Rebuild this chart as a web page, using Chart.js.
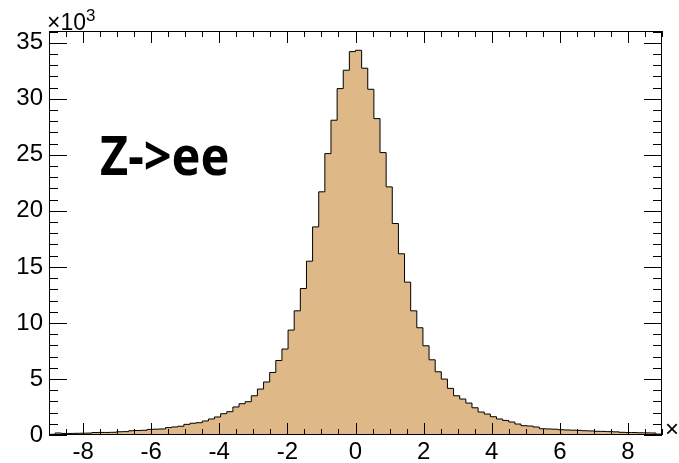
<!DOCTYPE html>
<html>
<head>
<meta charset="utf-8">
<script src="https://cdn.jsdelivr.net/npm/chart.js@4"></script>
<style>
  html, body { margin: 0; padding: 0; background: #fff; }
  #wrap { width: 679px; height: 463px; }
</style>
</head>
<body>
<div id="wrap"><canvas id="histo" width="679" height="463"></canvas></div>
<script>
// ── Histogram definition ──
const xMin = -9, xMax = 9, nBins = 100;
const yMax = 36.05;                 // in units of 10^3
const histTitle = 'Z->ee';

// bin contents (x10^3)
const counts = [
    0.06, 0.18, 0.14, 0.14, 0.15, 0.16, 0.17, 0.22, 0.23, 0.23,
    0.24, 0.29, 0.30, 0.38, 0.40, 0.42, 0.50, 0.52, 0.54, 0.66,
    0.72, 0.78, 0.95, 1.05, 1.10, 1.25, 1.43, 1.61, 1.90, 2.08,
    2.50, 2.79, 2.97, 3.50, 4.10, 4.73, 5.58, 6.65, 7.67, 9.36,
    11.08, 13.07, 15.51, 18.57, 21.70, 25.11, 28.09, 30.91, 32.55, 34.21,
    34.33, 32.73, 30.85, 28.23, 25.20, 22.14, 18.87, 16.17, 13.64, 11.08,
    9.57, 7.96, 6.71, 5.64, 4.99, 4.16, 3.50, 3.21, 2.85, 2.43,
    2.05, 1.87, 1.63, 1.43, 1.30, 1.16, 0.98, 0.83, 0.80, 0.71,
    0.56, 0.54, 0.52, 0.47, 0.45, 0.43, 0.41, 0.38, 0.36, 0.33,
    0.32, 0.30, 0.28, 0.24, 0.22, 0.22, 0.20, 0.19, 0.18, 0.08,
];

const xMajor = 2, xMinor = 0.5;
const yMajor = 5, yMinor = 1;

// step outline: start at the low edge of each bin
const binW = (xMax - xMin) / nBins;
const steps = [{ x: xMin, y: 0 }];
counts.forEach((c, i) => steps.push({ x: xMin + i * binW, y: c }));
steps.push({ x: xMax, y: counts[nBins - 1] });
steps.push({ x: xMax, y: 0 });

const labelFamily = '"Liberation Sans", Arial, sans-serif';

// ── ROOT-like frame, ticks on all four sides, labels ──
const frameTicks = {
    id: 'frameTicks',
    afterDraw(chart) {
        const { ctx, chartArea: a, scales: { x, y } } = chart;
        ctx.save();
        ctx.strokeStyle = '#000';
        ctx.lineWidth = 1;
        ctx.beginPath();
        for (let v = 0; v <= yMax + 1e-9; v += yMinor) {
            const py = Math.round(y.getPixelForValue(v)) + 0.5;
            const len = (Math.round(v) % yMajor === 0) ? 18 : 9;
            ctx.moveTo(a.left, py);  ctx.lineTo(a.left + len, py);
            ctx.moveTo(a.right, py); ctx.lineTo(a.right - len, py);
        }
        for (let v = xMin; v <= xMax + 1e-9; v += xMinor) {
            const px = Math.round(x.getPixelForValue(v)) + 0.5;
            const len = (Math.abs(v) % xMajor === 0) ? 12 : 6;
            ctx.moveTo(px, a.bottom); ctx.lineTo(px, a.bottom - len);
            ctx.moveTo(px, a.top);    ctx.lineTo(px, a.top + len);
        }
        ctx.stroke();
        ctx.strokeRect(Math.round(a.left) + 0.5, Math.round(a.top) + 0.5,
                       Math.round(a.right - a.left) - 1, Math.round(a.bottom - a.top) - 1);

        ctx.fillStyle = '#000';
        ctx.textBaseline = 'alphabetic';
        ctx.textAlign = 'left';
        ctx.font = '23px ' + labelFamily;
        ctx.fillText('\u00d710', a.left - 2, a.top - 1);
        const w = ctx.measureText('\u00d710').width;
        ctx.font = '17px ' + labelFamily;
        ctx.fillText('3', a.left - 2 + w, a.top - 10);
        ctx.font = '24px ' + labelFamily;
        ctx.fillText('\u00d7', a.right + 3, a.bottom + 2);

        // title, a little condensed
        ctx.font = 'bold 54px "Noto Sans", "Open Sans", sans-serif';
        ctx.translate(100, 175);
        ctx.scale(0.9, 1);
        ctx.fillText(histTitle, 0, 0);
        ctx.restore();
    }
};

const tickFont = { family: labelFamily, size: 24 };

new Chart(document.getElementById('histo'), {
    type: 'line',
    data: {
        datasets: [{
            data: steps,
            stepped: true,
            fill: 'origin',
            borderColor: '#000',
            borderWidth: 1,
            backgroundColor: 'rgb(222,185,135)',
            pointRadius: 0,
            tension: 0,
        }],
    },
    options: {
        responsive: false,
        animation: false,
        layout: { padding: { top: 31, right: 17, left: 0, bottom: 0 } },
        plugins: { legend: { display: false }, tooltip: { enabled: false } },
        scales: {
            x: {
                type: 'linear', min: xMin, max: xMax,
                grid: { display: false, drawTicks: false },
                border: { display: false },
                ticks: {
                    stepSize: 1, color: '#000', font: tickFont, padding: 3,
                    maxRotation: 0, autoSkip: false,
                    callback: v => (Math.abs(v) % xMajor === 0 ? String(v) : ''),
                },
                afterFit: s => { s.height = 28; },
            },
            y: {
                min: 0, max: yMax,
                grid: { display: false, drawTicks: false },
                border: { display: false },
                ticks: {
                    stepSize: 1, color: '#000', font: tickFont, padding: 6,
                    autoSkip: false,
                    callback: v => (v % yMajor === 0 ? String(v) : ''),
                },
                afterFit: s => { s.width = 49; },
            },
        },
    },
    plugins: [frameTicks],
});
</script>
</body>
</html>
